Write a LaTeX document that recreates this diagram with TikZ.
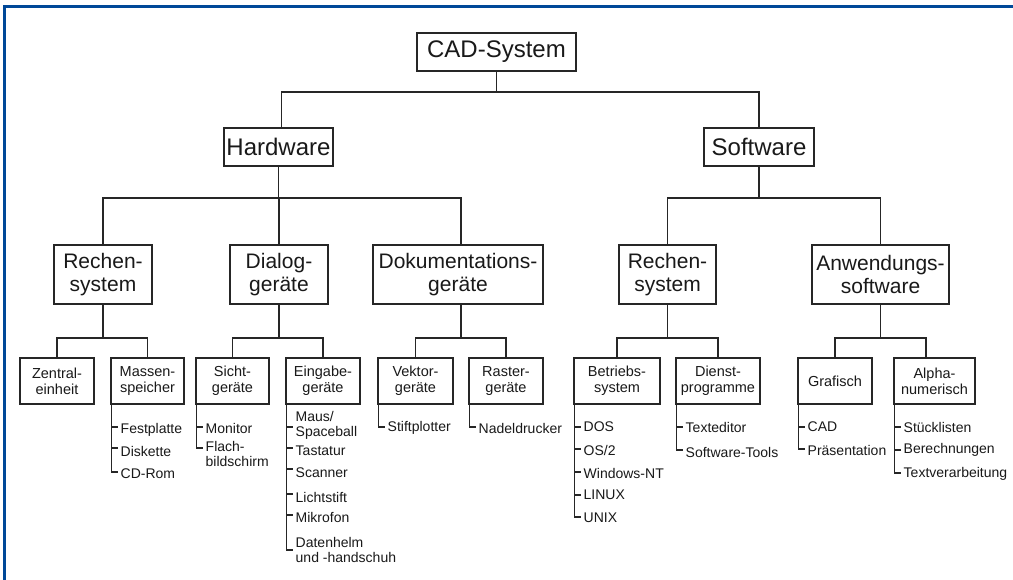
\documentclass[tikz,border=0pt]{standalone}
\usepackage{fontspec}
\setmainfont{Liberation Sans}
\definecolor{framecol}{RGB}{0,72,152}
\definecolor{ln}{RGB}{38,38,38}
\definecolor{tx}{RGB}{25,25,25}
\newcommand\leafitem[6]{%
  \node[leaf] (#1) at (#3, #4) {#6};
  \draw[conn] ([xshift=1pt]#2.south west) |- ([yshift=#4-#5]#1.west);
}
\begin{document}
\begin{tikzpicture}[x=1pt,y=-1pt,
  box/.style={draw=ln, line width=1.2pt, inner sep=0pt, align=center, text=tx},
  lvlA/.style={box, font=\fontsize{24}{28}\selectfont, minimum height=38pt},
  lvlC/.style={box, font=\fontsize{21}{23}\selectfont, minimum height=59pt},
  lvlD/.style={box, font=\fontsize{14.5}{16}\selectfont, minimum height=46pt},
  leaf/.style={anchor=west, inner xsep=2.5pt, inner ysep=0pt, align=left, text=tx,
    font=\fontsize{14}{15}\selectfont},
  conn/.style={draw=ln, line width=1.1pt}]
\useasboundingbox (0,0) rectangle (1013,580);
\fill[white] (0,0) rectangle (1013,580);
\draw[framecol, line width=3pt] (4.5,580) -- (4.5,6.5) -- (1013,6.5);

% level 1/2
\node[lvlA, minimum width=159pt] (cad) at (496.5,52) {CAD-System};
\node[lvlA, minimum width=109pt] (hw) at (278.5,147) {Hardware};
\node[lvlA, minimum width=110pt] (sw) at (759,147) {Software};
\coordinate (b0) at (496.5,92);
\draw[conn] (cad.south) -- (b0) -| ([xshift=3pt]hw.north);
\draw[conn] (b0) -| (sw.north);

% level 3
\node[lvlC, minimum width=98pt] (rsA) at (103,274.5) {Rechen-\\system};
\node[lvlC, minimum width=98pt] (dg) at (279,274.5) {Dialog-\\geräte};
\node[lvlC, minimum width=170pt] (dok) at (458,274.5) {Dokumentations-\\geräte};
\node[lvlC, minimum width=97pt] (rsB) at (667.5,274.5) {Rechen-\\system};
\node[lvlC, minimum width=137pt] (anw) at (880.5,274.5) {Anwendungs-\\software};
\coordinate (bA) at (278.5,198);
\coordinate (bB) at (759,198);
\draw[conn] (hw.south) -- (bA) -| (rsA.north);
\draw[conn] (bA) -| (dg.north);
\draw[conn] (bA) -| ([xshift=3pt]dok.north);
\draw[conn] (sw.south) -- (bB) -| (rsB.north);
\draw[conn] (bB) -| (anw.north);

% level 4
\node[lvlD, minimum width=74pt] (ze) at (57,381) {Zentral-\\einheit};
\node[lvlD, minimum width=73pt] (ms) at (147.5,381) {Massen-\\speicher};
\node[lvlD, minimum width=73pt] (sg) at (232.5,381) {Sicht-\\geräte};
\node[lvlD, minimum width=74pt] (eg) at (323,381) {Eingabe-\\geräte};
\node[lvlD, minimum width=75pt] (vg) at (415.5,381) {Vektor-\\geräte};
\node[lvlD, minimum width=74pt] (rg) at (506,381) {Raster-\\geräte};
\node[lvlD, minimum width=86pt] (bs) at (617,381) {Betriebs-\\system};
\node[lvlD, minimum width=84pt] (dp) at (718,381) {Dienst-\\programme};
\node[lvlD, minimum width=74pt] (gr) at (835,381) {Grafisch};
\node[lvlD, minimum width=81pt] (an) at (934.5,381) {Alpha-\\numerisch};
\coordinate (busD) at (0,338);
\draw[conn] (rsA.south) -- (rsA.south |- busD) -| (ze.north);
\draw[conn] (rsA.south |- busD) -| (ms.north);
\draw[conn] (dg.south) -- (dg.south |- busD) -| (sg.north);
\draw[conn] (dg.south |- busD) -| (eg.north);
\draw[conn] ([xshift=3pt]dok.south) -- ([xshift=3pt]dok.south |- busD) -| (vg.north);
\draw[conn] ([xshift=3pt]dok.south |- busD) -| (rg.north);
\draw[conn] (rsB.south) -- (rsB.south |- busD) -| (bs.north);
\draw[conn] (rsB.south |- busD) -| (dp.north);
\draw[conn] (anw.south) -- (anw.south |- busD) -| (gr.north);
\draw[conn] (anw.south |- busD) -| ([xshift=-8.5pt]an.north);

% leaves
\leafitem{msA}{ms}{118}{430}{427}{Festplatte}
\leafitem{msB}{ms}{118}{451}{448}{Diskette}
\leafitem{msC}{ms}{118}{474}{472}{CD-Rom}

\leafitem{sgA}{sg}{203}{428}{427}{Monitor}
\leafitem{sgB}{sg}{203}{454}{448}{Flach-\\bildschirm}

\leafitem{egA}{eg}{293}{425}{427}{Maus/\\Spaceball}
\leafitem{egB}{eg}{293}{451}{448}{Tastatur}
\leafitem{egC}{eg}{293}{473}{469}{Scanner}
\leafitem{egD}{eg}{293}{497}{494}{Lichtstift}
\leafitem{egE}{eg}{293}{517}{515}{Mikrofon}
\leafitem{egF}{eg}{293}{550}{550}{Datenhelm\\und -handschuh}

\leafitem{vgA}{vg}{385}{428}{427}{Stiftplotter}
\leafitem{rgA}{rg}{476}{428}{427}{Nadeldrucker}

\leafitem{bsA}{bs}{581}{427}{427}{DOS}
\leafitem{bsB}{bs}{581}{450}{449}{OS/2}
\leafitem{bsC}{bs}{581}{473}{472}{Windows-NT}
\leafitem{bsD}{bs}{581}{495}{495}{LINUX}
\leafitem{bsE}{bs}{581}{518}{517}{UNIX}

\leafitem{dpA}{dp}{683}{427}{427}{Texteditor}
\leafitem{dpB}{dp}{683}{452}{450}{Software-Tools}

\leafitem{grA}{gr}{805}{427}{427}{CAD}
\leafitem{grB}{gr}{805}{450}{449}{Präsentation}

\leafitem{anA}{an}{901}{427}{427}{Stücklisten}
\leafitem{anB}{an}{901}{450}{450}{Berechnungen}
\leafitem{anC}{an}{901}{474}{473}{Textverarbeitung}
\end{tikzpicture}
\end{document}
